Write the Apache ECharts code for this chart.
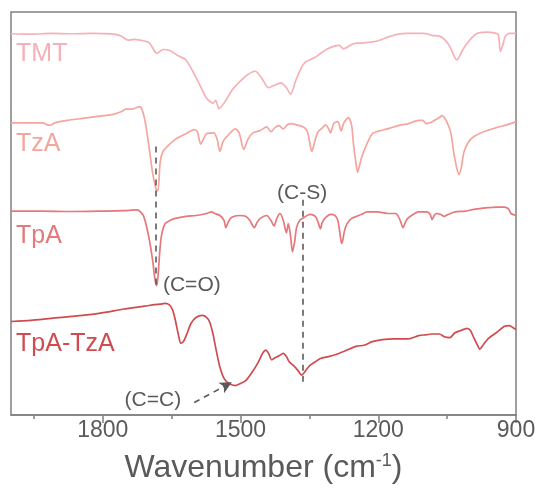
<!DOCTYPE html>
<html>
<head>
<meta charset="utf-8">
<script src="https://cdn.jsdelivr.net/npm/echarts@6/dist/echarts.min.js"></script>
<style>
  html, body { margin: 0; padding: 0; background: #ffffff; }
  #chart { width: 541px; height: 493px; }
</style>
</head>
<body>
<div id="chart"></div>
<script>
// FTIR spectra, stacked with vertical offsets (arbitrary units), wavenumber in cm-1
const seriesNames = ['TMT', 'TzA', 'TpA', 'TpA-TzA'];
const seriesColors = ['#f6b1b7', '#f4a59e', '#e6777a', '#cf4b50'];
const xTicks = [900, 1200, 1500, 1800];
const xMinorTicks = [1050, 1350, 1650, 1950];

const tmt = [
  [2000, 94.6], [1957, 94.5], [1912, 94.7], [1867, 94.6], [1822, 94.7], [1777, 94.5],
  [1759, 94.0], [1745, 93.0], [1732, 93.2], [1709, 92.8], [1698, 92.3], [1682, 89.7],
  [1669, 90.7], [1653, 90.4], [1637, 89.2], [1619, 88.1], [1597, 83.8], [1574, 78.6],
  [1560, 77.4], [1554, 78.1], [1547, 76.0], [1533, 77.9], [1518, 80.7], [1500, 82.9],
  [1484, 84.5], [1468, 85.3], [1455, 83.8], [1439, 81.2], [1425, 81.9], [1412, 82.4],
  [1400, 81.2], [1391, 79.6], [1380, 82.9], [1367, 86.3], [1358, 87.6], [1349, 88.1],
  [1337, 88.8], [1326, 89.7], [1313, 90.7], [1299, 91.4], [1285, 91.7], [1276, 90.9],
  [1258, 91.9], [1247, 92.3], [1236, 92.3], [1220, 92.5], [1202, 92.8], [1186, 93.5],
  [1173, 94.0], [1157, 94.5], [1139, 94.7], [1123, 94.7], [1101, 94.7], [1083, 94.2],
  [1067, 94.0], [1056, 93.2], [1044, 91.4], [1029, 88.1], [1017, 90.4], [1006, 92.3],
  [988, 94.5], [965, 95.0], [943, 94.7], [938, 94.2], [934, 90.2], [929, 91.7],
  [923, 94.0], [914, 94.7], [900, 94.7]
];

const tza = [
  [2000, 72.5], [1957, 72.5], [1930, 72.5], [1921, 72.0], [1914, 71.9], [1905, 72.5],
  [1878, 73.1], [1844, 73.6], [1811, 74.1], [1777, 74.6], [1759, 75.3], [1750, 75.9],
  [1736, 75.9], [1720, 76.5], [1714, 75.6], [1707, 72.3], [1698, 65.4], [1691, 59.7],
  [1684, 56.1], [1680, 55.6], [1675, 62.8], [1669, 65.4], [1660, 66.6], [1642, 68.4],
  [1619, 69.8], [1601, 70.8], [1594, 70.3], [1587, 67.2], [1581, 68.4], [1574, 69.8],
  [1558, 70.0], [1551, 68.4], [1545, 65.4], [1538, 67.9], [1529, 69.2], [1511, 71.0],
  [1503, 70.0], [1493, 65.9], [1484, 68.4], [1473, 70.0], [1457, 70.6], [1443, 71.5],
  [1434, 70.3], [1425, 71.3], [1416, 71.8], [1407, 71.0], [1398, 72.0], [1389, 72.3],
  [1378, 72.0], [1364, 71.5], [1355, 70.5], [1349, 67.4], [1345, 65.4], [1337, 68.4],
  [1331, 70.3], [1321, 71.3], [1315, 72.0], [1308, 71.0], [1304, 70.0], [1297, 72.3],
  [1288, 72.8], [1281, 70.5], [1275, 72.5], [1265, 73.8], [1258, 71.8], [1254, 67.2],
  [1249, 62.8], [1245, 60.2], [1240, 62.3], [1236, 64.0], [1225, 67.2], [1213, 69.8],
  [1198, 70.5], [1180, 71.0], [1157, 71.8], [1134, 72.3], [1112, 73.1], [1103, 73.1],
  [1096, 72.3], [1087, 72.5], [1078, 73.1], [1067, 73.8], [1061, 74.3], [1051, 72.8],
  [1042, 70.0], [1036, 65.4], [1029, 61.3], [1024, 59.7], [1019, 61.5], [1013, 65.4],
  [999, 68.4], [977, 70.0], [943, 71.3], [920, 72.0], [900, 72.8]
];

const tpa = [
  [2000, 50.6], [1935, 50.6], [1867, 50.5], [1799, 50.6], [1754, 50.7], [1725, 50.9],
  [1718, 50.4], [1711, 49.3], [1705, 46.9], [1698, 43.1], [1691, 38.0], [1687, 34.1],
  [1683, 32.1], [1680, 34.1], [1675, 41.9], [1671, 45.2], [1664, 47.5], [1653, 48.3],
  [1642, 48.8], [1619, 49.3], [1597, 49.5], [1574, 50.0], [1563, 50.4], [1556, 50.0],
  [1545, 49.5], [1536, 48.3], [1532, 46.5], [1527, 47.8], [1520, 49.0], [1502, 49.5],
  [1489, 49.3], [1480, 48.3], [1470, 46.5], [1464, 47.8], [1457, 48.8], [1443, 49.5],
  [1434, 48.3], [1427, 46.9], [1421, 48.8], [1414, 50.0], [1407, 48.3], [1400, 45.2],
  [1396, 47.5], [1391, 44.4], [1387, 40.5], [1382, 43.1], [1378, 46.5], [1371, 48.3],
  [1362, 49.0], [1349, 49.8], [1337, 49.3], [1331, 47.8], [1326, 46.2], [1322, 47.8],
  [1315, 49.0], [1303, 49.8], [1294, 49.5], [1288, 48.3], [1281, 43.1], [1279, 42.6],
  [1274, 45.5], [1268, 47.5], [1258, 48.8], [1247, 49.3], [1236, 49.8], [1225, 50.4],
  [1202, 50.4], [1180, 50.0], [1162, 50.0], [1153, 48.5], [1146, 46.5], [1139, 48.3],
  [1130, 49.3], [1112, 50.4], [1094, 50.4], [1087, 49.8], [1083, 48.5], [1078, 49.5],
  [1074, 50.0], [1065, 49.8], [1056, 49.3], [1047, 49.8], [1033, 50.4], [1010, 50.6],
  [988, 51.1], [965, 51.4], [943, 51.6], [925, 51.6], [916, 51.1], [911, 50.0], [900, 49.5]
];

const tpaTza = [
  [2000, 23.2], [1957, 23.5], [1912, 24.0], [1844, 24.7], [1799, 25.4], [1754, 26.3],
  [1709, 27.0], [1687, 27.4], [1675, 27.5], [1664, 27.7], [1655, 27.3], [1648, 26.1],
  [1642, 23.5], [1635, 19.7], [1630, 17.8], [1624, 18.3], [1617, 20.1], [1608, 22.7],
  [1597, 24.2], [1583, 24.7], [1574, 24.2], [1567, 23.0], [1560, 20.1], [1554, 16.6],
  [1545, 11.9], [1536, 9.1], [1525, 7.8], [1511, 7.3], [1500, 7.8], [1488, 8.6],
  [1473, 10.9], [1461, 13.2], [1452, 15.3], [1445, 16.1], [1439, 15.3], [1432, 13.7],
  [1425, 14.2], [1416, 14.7], [1407, 15.3], [1400, 14.5], [1394, 13.2], [1385, 12.3],
  [1376, 11.2], [1367, 9.9], [1360, 10.7], [1349, 12.3], [1337, 13.2], [1326, 14.0],
  [1308, 14.5], [1292, 15.0], [1274, 15.8], [1258, 16.6], [1247, 17.1], [1231, 17.3],
  [1213, 18.2], [1191, 18.7], [1168, 18.9], [1134, 18.9], [1112, 19.7], [1096, 19.9],
  [1083, 20.1], [1067, 20.1], [1056, 19.4], [1044, 19.2], [1033, 20.4], [1022, 20.9],
  [1006, 21.5], [999, 20.9], [992, 19.2], [983, 17.1], [979, 16.3], [972, 17.3],
  [961, 18.9], [943, 20.4], [925, 22.0], [914, 22.2], [907, 21.7], [900, 21.2]
];

// label anchors: [wavenumber, offset value]
const nameAnchors = [[1989, 89.6], [1989, 67.3], [1989, 44.5], [1989, 17.5]];

// band assignments
const bandLines = [
  { x: 1684, from: 66.6, to: 31.6 },   // C=O
  { x: 1365, from: 53.4, to: 7.7 }     // C-S
];
const bandLabels = [
  { text: '(C-S)', at: [1366, 55.1], align: 'center' },
  { text: '(C=O)', at: [1669, 32.3], align: 'left' },
  { text: '(C=C)', at: [1691, 3.6], align: 'center' }
];
const arrowFrom = [1601, 3.1];
const arrowTo = [1519, 8.1];

const spectra = [tmt, tza, tpa, tpaTza];
const gray = '#5a5a5a';
const axisGray = '#808080';
const fontFamily = '"Liberation Sans", Arial, sans-serif';

const series = spectra.map((d, i) => ({
  name: seriesNames[i],
  type: 'line',
  data: d,
  showSymbol: false,
  smooth: 0.25,
  lineStyle: { color: seriesColors[i], width: 1.7 },
  itemStyle: { color: seriesColors[i] },
  z: 3,
  markPoint: {
    symbol: 'circle',
    symbolSize: 0,
    silent: true,
    data: [{
      coord: nameAnchors[i],
      label: {
        show: true,
        formatter: seriesNames[i],
        position: [0, 0],
        align: 'left',
        verticalAlign: 'middle',
        color: seriesColors[i],
        fontSize: 25,
        fontFamily: fontFamily
      }
    }]
  }
}));

// annotation series: dashed band markers, labels and the arrow
series.push({
  type: 'line',
  data: [],
  silent: true,
  z: 4,
  markLine: {
    silent: true,
    symbol: ['none', 'none'],
    label: { show: false },
    lineStyle: { color: gray, width: 1.6, type: [6, 5] },
    data: bandLines.map(b => [{ coord: [b.x, b.from] }, { coord: [b.x, b.to] }]).concat([
      [
        { coord: arrowFrom, symbol: 'none' },
        { coord: arrowTo, symbol: 'arrow', symbolSize: [9, 12] }
      ]
    ])
  },
  markPoint: {
    symbol: 'circle',
    symbolSize: 0,
    silent: true,
    data: bandLabels.map(b => ({
      coord: b.at,
      label: {
        show: true,
        formatter: b.text,
        position: [0, 0],
        align: b.align,
        verticalAlign: 'middle',
        color: gray,
        fontSize: 21,
        fontFamily: fontFamily
      }
    }))
  }
});

const chart = echarts.init(document.getElementById('chart'), null, { renderer: 'canvas' });
chart.setOption({
  animation: false,
  backgroundColor: '#ffffff',
  grid: {
    left: 11, right: 25, top: 12, bottom: 78,
    show: true, borderColor: axisGray, borderWidth: 1.5, backgroundColor: 'transparent'
  },
  xAxis: [
    {
      type: 'value',
      min: 900, max: 2000, inverse: true,
      position: 'bottom',
      axisLine: { show: true, lineStyle: { color: axisGray, width: 1.5 } },
      splitLine: { show: false },
      axisTick: { show: true, length: 8, customValues: xTicks, lineStyle: { color: axisGray, width: 1.5 } },
      axisLabel: {
        customValues: xTicks, fontSize: 23, color: gray, margin: 4, fontFamily: fontFamily,
        formatter: v => String(v)
      },
      name: 'Wavenumber (cm{sup|-1})',
      nameLocation: 'middle',
      nameGap: 37,
      nameTextStyle: {
        fontSize: 32, color: gray, fontFamily: fontFamily,
        rich: { sup: { fontSize: 18, color: gray, fontFamily: fontFamily, padding: [0, 0, 15, 0] } }
      }
    },
    {
      type: 'value',
      min: 900, max: 2000, inverse: true,
      position: 'bottom',
      axisLine: { show: false },
      splitLine: { show: false },
      axisTick: { show: true, length: 4, customValues: xMinorTicks, lineStyle: { color: axisGray, width: 1.5 } },
      axisLabel: { show: false }
    }
  ],
  yAxis: {
    type: 'value', min: 0, max: 100,
    show: false,
    splitLine: { show: false }
  },
  series: series
});
</script>
</body>
</html>
